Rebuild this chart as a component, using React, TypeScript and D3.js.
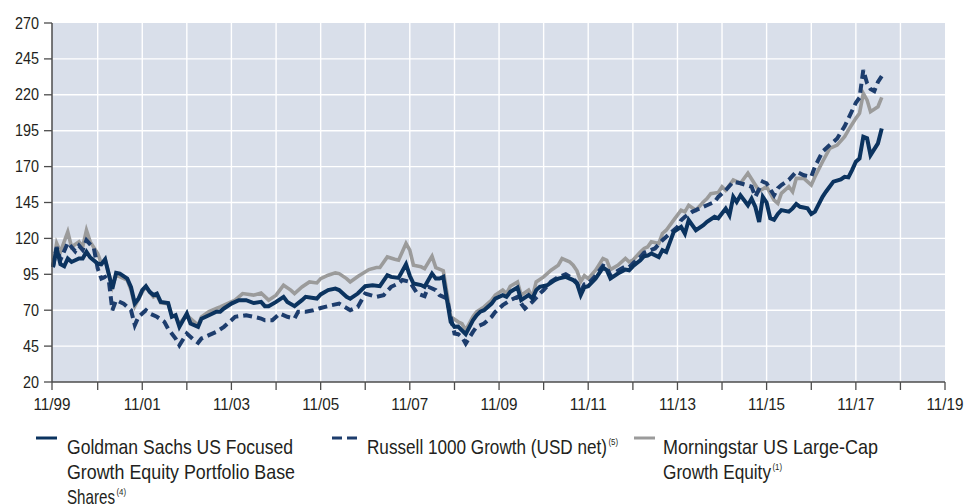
import React from "react";
import * as d3 from "d3";

// ---- data (index values, rebased to 100 at 11/99) ----
const goldman: [string, number][] = [
  ["1999-11",100],["1999-12",113],["2000-01",102],["2000-02",100.6],["2000-03",106],["2000-04",103.6],["2000-06",106],["2000-07",106],["2000-08",110.6],["2000-09",106.7],["2000-11",102.5],["2000-12",102],
  ["2001-01",105.5],["2001-03",85],["2001-04",96],["2001-05",95.5],["2001-07",92],["2001-08",86],["2001-09",74.7],["2001-10",78],["2001-11",84],["2001-12",86.7],
  ["2002-01",82.8],["2002-02",80.5],["2002-03",81.6],["2002-04",75.8],["2002-06",75],["2002-07",65.4],["2002-08",66.5],["2002-09",58.4],["2002-11",67.7],["2002-12",60.7],
  ["2003-02",58.4],["2003-03",64],["2003-05",66.5],["2003-07",69],["2003-08",69],["2003-09",71.2],["2003-11",74.6],
  ["2004-01",77],["2004-03",77],["2004-05",75],["2004-07",75.8],["2004-08",72.8],["2004-09",72.8],["2004-11",75.8],
  ["2005-01",79.3],["2005-02",75.8],["2005-04",72.8],["2005-06",77],["2005-07",79.3],["2005-09",78.5],["2005-10",78.1],["2005-11",81],
  ["2006-01",84],["2006-03",85],["2006-04",84],["2006-06",79.3],["2006-07",78],["2006-09",81.6],["2006-11",86.7],
  ["2007-01",87.4],["2007-03",86.7],["2007-05",94.4],["2007-06",93.2],["2007-08",92.5],["2007-10",102],["2007-11",94],["2007-12",88.6],
  ["2008-02",87.5],["2008-03",86.3],["2008-05",95.5],["2008-06",92],["2008-07",92],["2008-08",93.2],["2008-09",77],["2008-10",61.9],["2008-11",58.4],["2008-12",58.6],
  ["2009-02",53.3],["2009-04",63],["2009-05",66.5],["2009-06",69],["2009-07",70],["2009-09",74.6],["2009-10",78.1],["2009-12",80.5],
  ["2010-01",79.3],["2010-02",82.8],["2010-04",85.8],["2010-05",77],["2010-07",80.5],["2010-08",78.1],["2010-09",84],["2010-10",86.3],["2010-12",87.4],
  ["2011-02",91],["2011-03",92],["2011-05",93.2],["2011-07",91],["2011-08",88.6],["2011-09",80.5],["2011-10",86],["2011-11",86.7],
  ["2012-01",92],["2012-03",99.7],["2012-04",98],["2012-05",92],["2012-07",95.5],["2012-09",98.3],["2012-10",97.8],["2012-11",100.6],
  ["2013-01",104.8],["2013-02",107.6],["2013-03",108],["2013-04",109.5],["2013-06",107],["2013-07",111.8],["2013-08",110.5],["2013-09",117.6],["2013-10",124.5],["2013-12",128],
  ["2014-01",123.4],["2014-02",132.7],["2014-04",125.7],["2014-06",129.2],["2014-07",131.5],["2014-09",135],["2014-10",134],["2014-12",140.8],
  ["2015-01",136.1],["2015-02",148.9],["2015-03",145.4],["2015-04",150],["2015-06",143.1],["2015-07",147.7],["2015-08",141.9],["2015-09",131.5],["2015-10",148.9],["2015-11",145],["2015-12",134],
  ["2016-01",133],["2016-02",137],["2016-03",139.7],["2016-05",138.6],["2016-06",140.9],["2016-07",144],["2016-08",142],["2016-10",140.9],["2016-11",137],["2016-12",138.6],
  ["2017-02",149],["2017-03",152.5],["2017-05",159.5],["2017-07",161.1],["2017-08",162.9],["2017-09",162.5],["2017-10",167.6],["2017-11",173.4],["2017-12",175.7],
  ["2018-01",190.8],["2018-02",189.7],["2018-03",178],["2018-05",186.2],["2018-06",196.6],
];

const russell: [string, number][] = [
  ["1999-11",100],["1999-12",114],["2000-01",105],["2000-03",117],["2000-05",111],["2000-06",115],["2000-07",112],["2000-08",118.7],["2000-10",113],["2000-11",99],["2000-12",92],
  ["2001-01",93.2],["2001-02",90],["2001-03",70],["2001-04",77],["2001-06",74.6],["2001-08",70],["2001-09",59.6],["2001-10",65.4],["2001-12",70],
  ["2002-01",67.7],["2002-03",65.4],["2002-05",61.9],["2002-06",57],["2002-08",50.3],["2002-09",45.6],["2002-11",53.8],
  ["2003-01",49.1],["2003-02",47.3],["2003-03",50.3],["2003-05",52.6],["2003-07",54.9],["2003-09",58.4],["2003-11",63],["2003-12",65.4],
  ["2004-03",66.5],["2004-05",65.4],["2004-07",64.2],["2004-08",63],["2004-10",63],["2004-12",67.7],
  ["2005-02",65.4],["2005-04",64.2],["2005-05",69],["2005-07",69],["2005-09",70],["2005-11",71.5],
  ["2006-02",73.5],["2006-04",74.6],["2006-07",70],["2006-09",72.3],["2006-11",81.6],
  ["2007-02",79.3],["2007-04",80.5],["2007-06",86.3],["2007-08",88.6],["2007-09",91],["2007-11",89.7],
  ["2008-01",81.6],["2008-03",79.8],["2008-04",86.3],["2008-06",84],["2008-07",80.5],["2008-09",78.1],["2008-10",65.4],["2008-11",53.8],["2008-12",53.3],
  ["2009-01",51.4],["2009-02",46.8],["2009-04",54.9],["2009-05",58.4],["2009-07",60.7],["2009-09",65.4],["2009-10",68.8],["2009-12",73.5],
  ["2010-02",77],["2010-04",79.3],["2010-05",74.6],["2010-06",71.2],["2010-08",75.8],["2010-10",81.6],["2010-11",84],
  ["2011-01",90],["2011-03",93],["2011-05",95],["2011-07",92],["2011-08",89],["2011-09",83],["2011-10",88],["2011-11",88.5],
  ["2012-01",94],["2012-03",101],["2012-04",100],["2012-05",94],["2012-07",97.5],["2012-09",100.5],["2012-10",100],["2012-11",102.5],
  ["2013-01",107],["2013-02",110],["2013-04",112],["2013-05",113],["2013-07",118.7],["2013-09",123.4],["2013-11",128],["2013-12",132.7],
  ["2014-01",135],["2014-03",138.5],["2014-05",140.8],["2014-07",143.1],["2014-09",145.4],["2014-10",148.9],["2014-12",153.5],
  ["2015-02",159.5],["2015-04",158.4],["2015-07",156],["2015-08",149],["2015-10",159.5],["2015-11",158.4],
  ["2016-01",150],["2016-02",155],["2016-03",157.2],["2016-05",160.7],["2016-07",166.5],["2016-09",164],["2016-11",163],["2016-12",170],
  ["2017-02",180.4],["2017-04",185],["2017-06",189.6],["2017-08",198],["2017-09",203.5],["2017-11",214.5],["2017-12",218],
  ["2018-01",237.2],["2018-02",228],["2018-03",224],["2018-04",222.5],["2018-05",229],["2018-06",233],
];

const morningstar: [string, number][] = [
  ["1999-11",101],["1999-12",116.6],["2000-01",110.6],["2000-03",124.5],["2000-04",114],["2000-06",117.6],["2000-07",114],["2000-08",125.7],["2000-09",117.6],["2000-11",109.5],["2000-12",102.5],
  ["2001-01",105],["2001-03",86.3],["2001-04",94.4],["2001-07",91],["2001-08",84],["2001-09",72.8],["2001-11",82.8],["2001-12",86.3],
  ["2002-02",79.3],["2002-03",80.5],["2002-04",75.2],["2002-06",74.6],["2002-07",66.5],["2002-08",65.4],["2002-09",60.7],["2002-11",66.5],
  ["2003-01",61.9],["2003-02",59.6],["2003-03",65.4],["2003-05",69],["2003-07",71.2],["2003-08",72.3],["2003-09",73.5],["2003-12",77],
  ["2004-02",81.6],["2004-05",80.5],["2004-07",82],["2004-09",77],["2004-11",80.5],
  ["2005-01",87.4],["2005-03",84],["2005-04",81.6],["2005-06",86.2],["2005-08",89.7],["2005-10",89],["2005-11",92],
  ["2006-01",94.4],["2006-03",96],["2006-04",95.5],["2006-06",92],["2006-07",89.7],["2006-09",93.5],["2006-12",98.3],
  ["2007-02",99.7],["2007-03",99.7],["2007-05",107.1],["2007-07",105.5],["2007-08",104.8],["2007-10",116.4],["2007-11",111.8],["2007-12",101.3],
  ["2008-02",100.2],["2008-03",99],["2008-05",107.6],["2008-06",99.7],["2008-08",97.5],["2008-09",81.6],["2008-10",65.4],["2008-12",61.9],
  ["2009-01",60.7],["2009-02",56.1],["2009-04",65.4],["2009-05",68.9],["2009-07",72.3],["2009-09",77],["2009-10",80.5],["2009-12",84],
  ["2010-01",81.6],["2010-02",86.7],["2010-04",89.7],["2010-05",80.5],["2010-07",84],["2010-08",79.3],["2010-09",89.7],["2010-11",93.2],
  ["2011-01",97.9],["2011-03",101.3],["2011-04",106],["2011-06",103.7],["2011-07",101.3],["2011-08",97.4],["2011-09",90],["2011-10",94],["2011-11",92],
  ["2012-01",97.9],["2012-03",106],["2012-04",104.8],["2012-05",98.3],["2012-07",101.3],["2012-09",106],["2012-10",103.7],["2012-11",104.8],
  ["2013-01",110.6],["2013-02",113],["2013-03",114],["2013-04",117.6],["2013-06",116.5],["2013-07",123.4],["2013-08",125.7],["2013-10",132.7],["2013-12",139.6],
  ["2014-01",138.5],["2014-02",143.1],["2014-04",139.6],["2014-06",145.4],["2014-07",147.7],["2014-08",151.2],["2014-10",152],["2014-11",155.9],["2014-12",153.5],
  ["2015-02",160.7],["2015-04",158.4],["2015-06",165.4],["2015-08",157.2],["2015-09",153],["2015-11",156],
  ["2016-01",146.7],["2016-02",144.4],["2016-03",151.4],["2016-05",156],["2016-06",152.5],["2016-07",161.8],["2016-09",161.8],["2016-11",157.2],["2016-12",162.9],
  ["2017-02",173.4],["2017-04",182.7],["2017-06",185],["2017-08",190.8],["2017-09",195.4],["2017-11",203.6],["2017-12",207.1],
  ["2018-01",221],["2018-02",216.3],["2018-03",208.2],["2018-05",211.7],["2018-06",218.2],
];

const yTicks = [20, 45, 70, 95, 120, 145, 170, 195, 220, 245, 270];
const xTickLabels = ["11/99", "11/01", "11/03", "11/05", "11/07", "11/09", "11/11", "11/13", "11/15", "11/17", "11/19"];

const legendGoldman = ["Goldman Sachs US Focused", "Growth Equity Portfolio Base", "Shares"];
const legendRussell = ["Russell 1000 Growth (USD net)"];
const legendMorningstar = ["Morningstar US Large-Cap", "Growth Equity"];
const legendNotes = ["(4)", "(5)", "(1)"];

// ---- layout ----
const W = 967, H = 504;
const plotL = 52, plotR = 945, plotT = 23, plotB = 382;
const FONT = "'Liberation Sans', Arial, sans-serif";
const NAVY = "#0b335f";
const NAVY_D = "#1d3d6d";
const GRAY = "#9b9b9b";
const TEXT = "#231f20";

// measured widths of text runs in the reference (condensed face)
const charW = 0.47;
const legendWidths: Record<string, number> = {
  "Goldman Sachs US Focused": 226,
  "Growth Equity Portfolio Base": 228,
  "Shares": 48,
  "Russell 1000 Growth (USD net)": 240,
  "Morningstar US Large-Cap": 215,
  "Growth Equity": 108,
};

const parse = d3.timeParse("%Y-%m");

function Cond({ x, y, text, size, width, anchor = "start" }:
  { x: number; y: number; text: string; size: number; width: number; anchor?: "start" | "middle" | "end" }) {
  return (
    <text x={x} y={y} textAnchor={anchor} fontSize={size} fill={TEXT}
      textLength={width} lengthAdjust="spacingAndGlyphs">{text}</text>
  );
}

export default function App() {
  const x = d3.scaleTime()
    .domain([parse("1999-11") as Date, parse("2019-11") as Date])
    .range([53, plotR]);
  const y = d3.scaleLinear().domain([20, 270]).range([plotB, plotT]);

  const line = d3.line<[string, number]>()
    .x(d => x(parse(d[0]) as Date))
    .y(d => y(d[1]))
    .curve(d3.curveLinear);

  const yearTicks = d3.range(0, 21).map(i => d3.timeMonth.offset(parse("1999-11") as Date, i * 12));

  const lh = 25;
  const legendY = 454;

  const legendBlock = (lines: string[], x0: number, note: string) =>
    lines.map((s, i) => {
      const w = legendWidths[s];
      const yy = legendY + i * lh;
      return (
        <g key={s}>
          <Cond x={x0} y={yy} text={s} size={21} width={w} />
          {i === lines.length - 1 && (
            <text x={x0 + w + 1.5} y={yy - 9} fontSize={8.5} fill={TEXT}
              textLength={note.length * 3.2} lengthAdjust="spacingAndGlyphs">{note}</text>
          )}
        </g>
      );
    });

  return (
    <div style={{ position: "absolute", left: 0, top: 0, width: W, height: H, background: "#fff", overflow: "hidden" }}>
      <svg width={W} height={H} style={{ display: "block" }} fontFamily={FONT}>
        <rect x={plotL} y={plotT} width={plotR - plotL} height={plotB - plotT} fill="#d9dfea" />
        {yTicks.slice(1, -1).map(t => (
          <line key={"gy" + t} x1={plotL} x2={plotR} y1={y(t)} y2={y(t)} stroke="#fff" strokeWidth={1.4} />
        ))}
        {yearTicks.slice(1, -1).map((d, i) => (
          <line key={"gx" + i} x1={x(d)} x2={x(d)} y1={plotT} y2={plotB} stroke="#fff" strokeWidth={1.4} />
        ))}

        <path d={line(morningstar) || ""} fill="none" stroke={GRAY} strokeWidth={3.6} strokeLinejoin="miter" strokeMiterlimit={4} />
        <path d={line(russell) || ""} fill="none" stroke={NAVY_D} strokeWidth={4} strokeDasharray="9,5" strokeLinejoin="miter" strokeMiterlimit={4} />
        <path d={line(goldman) || ""} fill="none" stroke={NAVY} strokeWidth={4} strokeLinejoin="miter" strokeMiterlimit={4} />

        {/* axes */}
        <line x1={plotL} x2={plotL} y1={plotT} y2={plotB} stroke="#4d4d4d" strokeWidth={1.5} />
        <line x1={plotL} x2={plotR} y1={plotB} y2={plotB} stroke="#4d4d4d" strokeWidth={1.5} />
        {yTicks.map(t => (
          <g key={"yt" + t}>
            <line x1={44} x2={plotL} y1={y(t)} y2={y(t)} stroke="#4d4d4d" strokeWidth={1.3} />
            <Cond x={39} y={y(t) + 5.5} text={String(t)} size={17} width={String(t).length * 17 * charW} anchor="end" />
          </g>
        ))}
        {yearTicks.map((d, i) => (
          <g key={"xt" + i}>
            <line x1={i === 0 ? plotL : x(d)} x2={i === 0 ? plotL : x(d)} y1={plotB} y2={plotB + 8} stroke="#4d4d4d" strokeWidth={1.3} />
            {i % 2 === 0 && (
              <Cond x={i === 0 ? plotL : x(d)} y={410} text={xTickLabels[i / 2]} size={17} width={37} anchor="middle" />
            )}
          </g>
        ))}

        {/* legend */}
        <line x1={36} x2={57} y1={438} y2={438} stroke={NAVY} strokeWidth={3} />
        {legendBlock(legendGoldman, 67, legendNotes[0])}
        <line x1={332} x2={358} y1={438} y2={438} stroke={NAVY_D} strokeWidth={3} strokeDasharray="10,5" />
        {legendBlock(legendRussell, 367, legendNotes[1])}
        <line x1={634} x2={655} y1={438} y2={438} stroke={GRAY} strokeWidth={3} />
        {legendBlock(legendMorningstar, 663, legendNotes[2])}
      </svg>
    </div>
  );
}
